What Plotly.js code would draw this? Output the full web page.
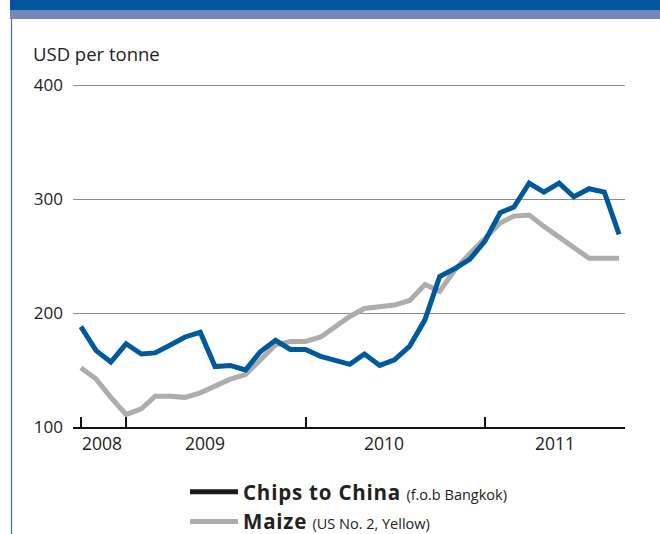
<!DOCTYPE html>
<html>
<head>
<meta charset="utf-8">
<script src="https://cdn.plot.ly/plotly-3.0.1.min.js"></script>
<style>
  html, body { margin: 0; padding: 0; background: #ffffff; }
  #chart { width: 660px; height: 534px; }
</style>
</head>
<body>
<div id="chart"></div>
<script>
// Monthly observations, Oct 2008 – Oct 2011
const months = [
  '2008-10-01','2008-11-01','2008-12-01',
  '2009-01-01','2009-02-01','2009-03-01','2009-04-01','2009-05-01','2009-06-01',
  '2009-07-01','2009-08-01','2009-09-01','2009-10-01','2009-11-01','2009-12-01',
  '2010-01-01','2010-02-01','2010-03-01','2010-04-01','2010-05-01','2010-06-01',
  '2010-07-01','2010-08-01','2010-09-01','2010-10-01','2010-11-01','2010-12-01',
  '2011-01-01','2011-02-01','2011-03-01','2011-04-01','2011-05-01','2011-06-01',
  '2011-07-01','2011-08-01','2011-09-01','2011-10-01'
];
// Cassava chips to China, f.o.b. Bangkok (USD per tonne)
const chipsToChina = [
  188, 167, 157,
  173, 164, 165, 172, 179, 183,
  153, 154, 150, 166, 176, 168,
  168, 162, 159, 155, 164, 154,
  159, 171, 194, 232, 239, 247,
  263, 288, 293, 314, 306, 314,
  302, 309, 306, 269
];
// Maize, US No. 2 Yellow (USD per tonne)
const maize = [
  152, 142, 126,
  111, 116, 127, 127, 126, 130,
  136, 142, 146, 159, 172, 175,
  175, 179, 187, 197, 204, 206,
  207, 211, 225, 219, 238, 252,
  265, 279, 285, 286, 276, 267,
  258, 248, 248, 248
];
const seriesNames = [
  '<span style="letter-spacing:0.8px"><b>Chips to China</b></span> <span style="font-size:14.5px">(f.o.b Bangkok)</span>',
  '<span style="letter-spacing:0.8px"><b>Maize</b></span> <span style="font-size:14.5px">(US No. 2, Yellow)</span>'
];
const yTicks = [100, 200, 300, 400];
const xTickMarks = ['2008-10-01', '2009-01-01', '2010-01-01', '2011-01-01'];
const yearLabels = ['2008', '2009', '2010', '2011'];
const yearLabelDates = ['2008-11-13', '2009-06-10', '2010-06-10', '2011-05-23'];

const FONT = '"Open Sans", "DejaVu Sans", sans-serif';
const BLUE = '#00599b';
const GREY = '#adadad';

const traces = [
  { x: months, y: maize, type: 'scatter', mode: 'lines',
    line: { color: GREY, width: 5 }, showlegend: false, hoverinfo: 'skip' },
  { x: months, y: chipsToChina, type: 'scatter', mode: 'lines',
    line: { color: BLUE, width: 5 }, showlegend: false, hoverinfo: 'skip' },
  // legend entries (the reference draws the Chips swatch in black)
  { x: [null], y: [null], type: 'scatter', mode: 'lines', name: seriesNames[0],
    line: { color: '#1a1a1a', width: 5 }, showlegend: true },
  { x: [null], y: [null], type: 'scatter', mode: 'lines', name: seriesNames[1],
    line: { color: GREY, width: 5 }, showlegend: true }
];

const annotations = yearLabels.map((t, i) => ({
  x: yearLabelDates[i], y: 0, xref: 'x', yref: 'paper',
  text: t, showarrow: false, xanchor: 'center', yanchor: 'top', yshift: -2,
  font: { family: FONT, size: 17.5, color: '#222' }
}));

// plot area: left 73, top 84, width 552, height 343
const px2x = p => (p - 73) / 552;
const py2y = p => (427 - p) / 343;

const shapes = [
  { type: 'rect', xref: 'paper', yref: 'paper', x0: px2x(10), x1: px2x(662), y0: py2y(10), y1: py2y(-2),
    fillcolor: '#00579b', line: { width: 0 }, layer: 'below' },
  { type: 'rect', xref: 'paper', yref: 'paper', x0: px2x(10), x1: px2x(662), y0: py2y(19), y1: py2y(10),
    fillcolor: '#7686b9', line: { width: 0 }, layer: 'below' },
  { type: 'line', xref: 'paper', yref: 'paper', x0: px2x(11.5), x1: px2x(11.5), y0: py2y(19), y1: py2y(536),
    line: { color: '#3f6f9f', width: 1.2 }, layer: 'below' }
];

const layout = {
  width: 660, height: 534,
  margin: { l: 73, r: 35, t: 84, b: 107, autoexpand: false },
  paper_bgcolor: '#ffffff', plot_bgcolor: '#ffffff',
  font: { family: FONT, size: 17, color: '#222' },
  title: { text: 'USD per tonne', xref: 'container', yref: 'container',
    x: 33 / 660, xanchor: 'left', y: 1 - 55 / 534, yanchor: 'middle',
    font: { family: FONT, size: 18.5, color: '#222' } },
  xaxis: {
    type: 'date', range: ['2008-09-15', '2011-10-13'],
    tickmode: 'array', tickvals: xTickMarks, ticktext: ['', '', '', ''],
    ticks: 'inside', ticklen: 10, tickwidth: 2, tickcolor: '#111',
    showgrid: false, zeroline: false, showline: true, linecolor: '#111', linewidth: 2,
    fixedrange: true
  },
  yaxis: {
    range: [100, 400.9], tickmode: 'array', tickvals: yTicks,
    showgrid: true, gridcolor: '#8c8c8c', gridwidth: 1,
    zeroline: false, showline: false, ticks: '', ticklabelstandoff: 9,
    tickfont: { family: FONT, size: 17, color: '#222' }, fixedrange: true
  },
  legend: {
    x: px2x(185), xanchor: 'left', y: py2y(472), yanchor: 'top',
    orientation: 'v', bgcolor: 'rgba(0,0,0,0)', itemwidth: 48,
    font: { family: FONT, size: 20.5, color: '#222' }
  },
  annotations: annotations,
  shapes: shapes
};

Plotly.newPlot('chart', traces, layout, { displayModeBar: false, staticPlot: true });
</script>
</body>
</html>
